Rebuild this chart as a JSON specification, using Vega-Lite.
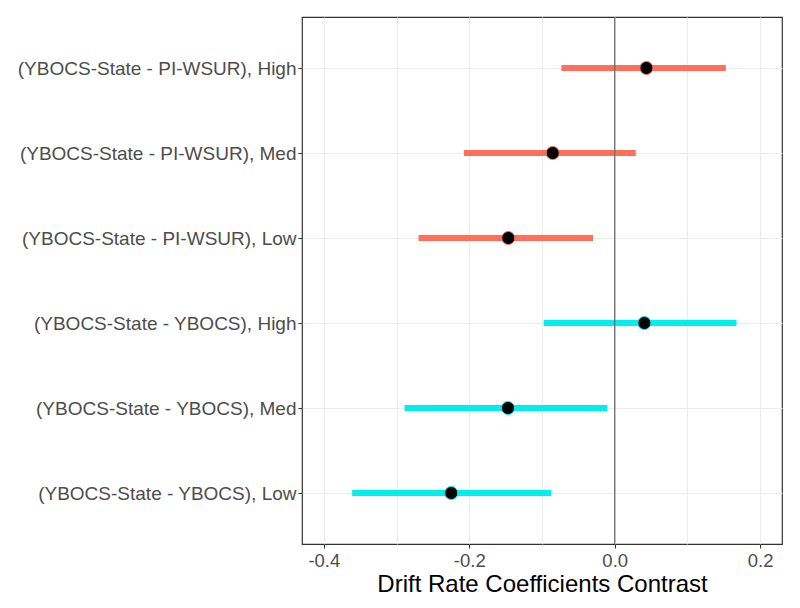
{
  "$schema": "https://vega.github.io/schema/vega-lite/v6.json",
  "autosize": "none",
  "width": 480,
  "height": 527,
  "padding": {"left": 302, "top": 17, "right": 18, "bottom": 64},
  "background": "white",
  "config": {
    "view": {"stroke": "#333333", "strokeWidth": 1.2},
    "font": "Liberation Sans"
  },
  "data": {
    "values": [
      {"term": "(YBOCS-State - PI-WSUR), High", "group": "PI-WSUR", "est": 0.0436, "lo": -0.0734, "hi": 0.1528},
      {"term": "(YBOCS-State - PI-WSUR), Med", "group": "PI-WSUR", "est": -0.0853, "lo": -0.2074, "hi": 0.0289},
      {"term": "(YBOCS-State - PI-WSUR), Low", "group": "PI-WSUR", "est": -0.1463, "lo": -0.2697, "hi": -0.0298},
      {"term": "(YBOCS-State - YBOCS), High", "group": "YBOCS", "est": 0.0408, "lo": -0.0977, "hi": 0.1674},
      {"term": "(YBOCS-State - YBOCS), Med", "group": "YBOCS", "est": -0.1468, "lo": -0.289, "hi": -0.0101},
      {"term": "(YBOCS-State - YBOCS), Low", "group": "YBOCS", "est": -0.2248, "lo": -0.361, "hi": -0.0871}
    ]
  },
  "encoding": {
    "y": {
      "field": "term",
      "type": "nominal",
      "sort": null,
      "scale": {"type": "point", "padding": 0.6},
      "axis": {
        "title": null,
        "labelFontSize": 19,
        "labelLimit": 0,
        "labelColor": "#4D4D4D",
        "labelPadding": 2,
        "tickSize": 4,
        "tickColor": "#333333",
        "domain": false,
        "grid": true,
        "gridColor": "#EBEBEB",
        "gridWidth": 1
      }
    }
  },
  "layer": [
    {
      "mark": {"type": "rule", "strokeWidth": 6},
      "encoding": {
        "x": {
          "field": "lo",
          "type": "quantitative",
          "scale": {"domain": [-0.43, 0.23], "nice": false, "zero": false},
          "axis": {
            "title": "Drift Rate Coefficients Contrast",
            "titleFontSize": 24,
            "titleFontWeight": "normal",
            "titleColor": "black",
            "titlePadding": 3,
            "values": [-0.4, -0.3, -0.2, -0.1, 0, 0.1, 0.2],
            "labelExpr": "abs(round(datum.value*10)) % 2 == 0 ? replace(format(datum.value, '.1f'), '\u2212', '-') : ''",
            "labelFontSize": 18.5,
            "labelColor": "#4D4D4D",
            "labelPadding": 3,
            "tickSize": 4,
            "tickColor": {"condition": {"test": "abs(round(datum.value*10)) % 2 == 0", "value": "#333333"}, "value": "transparent"},
            "domain": false,
            "grid": true,
            "gridColor": "#EBEBEB",
            "gridWidth": 1
          }
        },
        "x2": {"field": "hi"},
        "color": {
          "field": "group",
          "type": "nominal",
          "scale": {"domain": ["PI-WSUR", "YBOCS"], "range": ["#FF6F59", "#00EEEE"]},
          "legend": null
        }
      }
    },
    {
      "data": {"values": [{"z": 0}]},
      "mark": {"type": "rule", "color": "#666666", "strokeWidth": 1.2},
      "encoding": {"x": {"field": "z", "type": "quantitative"}, "y": null}
    },
    {
      "mark": {"type": "point", "filled": false, "fill": "black", "fillOpacity": 1, "strokeWidth": 1, "size": 170, "shape": "circle"},
      "encoding": {
        "x": {"field": "est", "type": "quantitative"},
        "stroke": {"field": "group", "type": "nominal", "scale": {"domain": ["PI-WSUR", "YBOCS"], "range": ["#FF6F59", "#00EEEE"]}, "legend": null}
      }
    }
  ]
}
